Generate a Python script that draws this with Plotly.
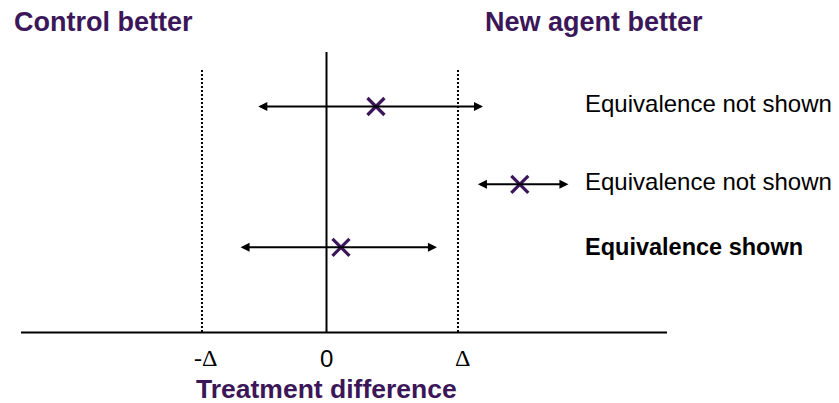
import plotly.graph_objects as go

# ---- data (units of the equivalence margin Δ) ----
row_labels = ["Equivalence not shown", "Equivalence not shown", "Equivalence shown"]
row_bold = [False, False, True]
ci_lower = [-0.53, 1.14, -0.665]
ci_upper = [1.19, 1.84, 0.84]
estimates = [0.376, 1.47, 0.11]
margin_left = -0.947
margin_right = 1.0
tick_values = [margin_left, 0.0, margin_right]
tick_labels = ["-Δ", "0", "Δ"]

# ---- layout constants ----
PURPLE = "#3B1759"
FONT = "Liberation Sans, Arial, sans-serif"
SERIF = "Liberation Serif, Times New Roman, serif"
W, H = 839, 403
ZERO_PX, UNIT_PX = 326.5, 131.5
x_lo = -ZERO_PX / UNIT_PX
x_hi = (W - ZERO_PX) / UNIT_PX
row_y = [106.5, 184.3, 247.3]
label_y = [103, 181, 246.5]
label_x = (583 - ZERO_PX) / UNIT_PX
axis_y = 332.5
axis_x0, axis_x1 = (21 - ZERO_PX) / UNIT_PX, (667 - ZERO_PX) / UNIT_PX

fig = go.Figure()

# point estimates
fig.add_trace(go.Scatter(
    x=estimates, y=row_y, mode="markers",
    marker=dict(symbol="x-thin", size=17, color=PURPLE,
                line=dict(color=PURPLE, width=3.2)),
    hoverinfo="skip", showlegend=False,
))

shapes = [
    dict(type="line", xref="x", yref="y", x0=axis_x0, x1=axis_x1, y0=axis_y, y1=axis_y,
         line=dict(color="black", width=2)),
    dict(type="line", xref="x", yref="y", x0=0, x1=0, y0=52, y1=axis_y,
         line=dict(color="black", width=2)),
    dict(type="line", xref="x", yref="y", x0=margin_left, x1=margin_left, y0=70, y1=axis_y,
         line=dict(color="black", width=2, dash="2px,2px")),
    dict(type="line", xref="x", yref="y", x0=margin_right, x1=margin_right, y0=70, y1=axis_y,
         line=dict(color="black", width=2, dash="2px,2px")),
]

annotations = []
# confidence interval double arrows
for lo, hi, y in zip(ci_lower, ci_upper, row_y):
    annotations.append(dict(
        x=hi, y=y, ax=lo, ay=y, xref="x", yref="y", axref="x", ayref="y",
        text="", showarrow=True, arrowside="end+start", arrowhead=2,
        arrowsize=0.9, arrowwidth=2, arrowcolor="black", standoff=0, startstandoff=0,
    ))
# row labels
for txt, b, y in zip(row_labels, row_bold, label_y):
    annotations.append(dict(
        x=label_x, y=y, xref="x", yref="y", xanchor="left", yanchor="middle",
        text=f"<b>{txt}</b>" if b else txt, showarrow=False,
        font=dict(family=FONT, size=24 if not b else 23.5, color="black"),
    ))
# tick labels
for v, t in zip(tick_values, tick_labels):
    annotations.append(dict(
        x=v, y=358, xref="x", yref="y", xanchor="center", yanchor="middle",
        xshift=4 if v != 0 else 0, text=t, showarrow=False,
        font=dict(family=SERIF if "Δ" in t else FONT, size=24, color="black"),
    ))
# titles
annotations += [
    dict(x=(12 - ZERO_PX) / UNIT_PX, y=22, xref="x", yref="y", text="<b>Control better</b>",
         showarrow=False, xanchor="left", yanchor="middle",
         font=dict(family=FONT, size=27, color=PURPLE)),
    dict(x=(483 - ZERO_PX) / UNIT_PX, y=22, xref="x", yref="y", text="<b>New agent better</b>",
         showarrow=False, xanchor="left", yanchor="middle",
         font=dict(family=FONT, size=27, color=PURPLE)),
    dict(x=0, y=388.5, xref="x", yref="y", text="<b>Treatment difference</b>", showarrow=False,
         xanchor="center", yanchor="middle", font=dict(family=FONT, size=26.5, color=PURPLE)),
]

fig.update_layout(
    width=W, height=H, margin=dict(l=0, r=0, t=0, b=0),
    paper_bgcolor="white", plot_bgcolor="white",
    xaxis=dict(range=[x_lo, x_hi], visible=False, fixedrange=True),
    yaxis=dict(range=[H, 0], visible=False, fixedrange=True),
    shapes=shapes, annotations=annotations, showlegend=False,
)

fig.write_html("out.html", config={"displayModeBar": False},
               post_script="document.body.style.margin='0';document.body.style.overflow='hidden';")
